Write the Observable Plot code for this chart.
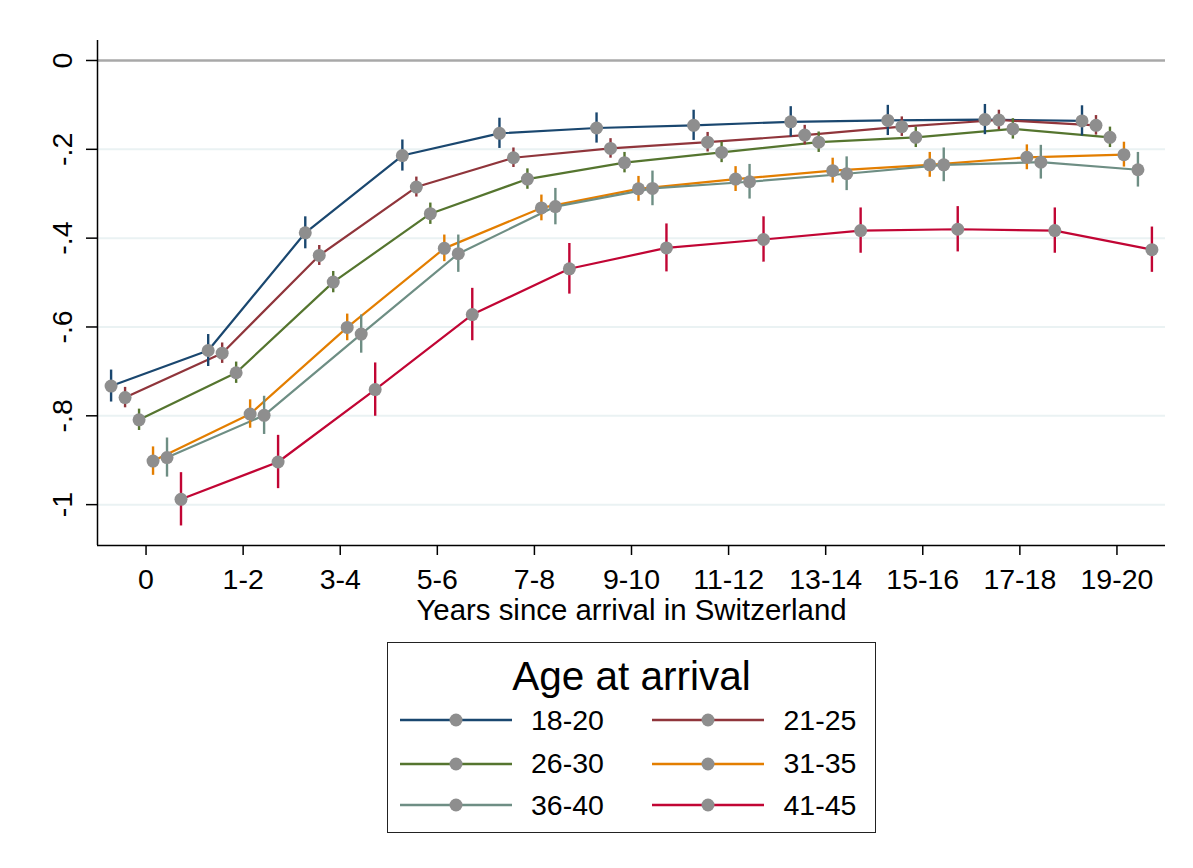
<!DOCTYPE html>
<html>
<head>
<meta charset="utf-8">
<script src="https://cdn.jsdelivr.net/npm/d3@7"></script>
<script src="https://cdn.jsdelivr.net/npm/@observablehq/plot@0.6"></script>
<style>
  html, body { margin: 0; padding: 0; background: #fff; }
  body { width: 1193px; height: 868px; position: relative; font-family: "Liberation Sans", Arial, sans-serif; }
  #chart { position: absolute; left: 0; top: 0; }
  #legend { position: absolute; left: 387px; top: 642px; width: 489px; height: 191px; box-sizing: border-box; border: 1.6px solid #222; background: #fff; }
  #legend .title { position: absolute; left: 0; right: 0; top: 11px; text-align: center; font-size: 40.5px; line-height: 1.117; color: #000; }
  .item { position: absolute; height: 30px; display: flex; align-items: center; }
  .item span { font-size: 28.5px; color: #000; margin-left: 19.5px; }
</style>
</head>
<body>
<div id="chart"></div>
<div id="legend"><div class="title">Age at arrival</div></div>
<script>
// ---- data ----
const categories = ["0", "1-2", "3-4", "5-6", "7-8", "9-10", "11-12", "13-14", "15-16", "17-18", "19-20"];
const groups = ["18-20", "21-25", "26-30", "31-35", "36-40", "41-45"];
const colors = ["#1a476f", "#90353b", "#55752f", "#e37e00", "#6e8e84", "#c10534"];
const offsets = [-0.36, -0.216, -0.072, 0.072, 0.216, 0.36];

const est_18_20 = [-0.733, -0.653, -0.388, -0.214, -0.164, -0.152, -0.146, -0.138, -0.135, -0.133, -0.136];
const ci_18_20  = [0.036, 0.036, 0.036, 0.035, 0.034, 0.034, 0.034, 0.034, 0.034, 0.034, 0.034];
const est_21_25 = [-0.759, -0.659, -0.439, -0.285, -0.219, -0.198, -0.184, -0.168, -0.149, -0.134, -0.146];
const ci_21_25  = [0.023, 0.023, 0.0225, 0.0225, 0.022, 0.022, 0.022, 0.022, 0.022, 0.022, 0.022];
const est_26_30 = [-0.809, -0.703, -0.499, -0.345, -0.267, -0.230, -0.207, -0.184, -0.173, -0.154, -0.173];
const ci_26_30  = [0.024, 0.024, 0.024, 0.024, 0.023, 0.023, 0.023, 0.023, 0.023, 0.023, 0.023];
const est_31_35 = [-0.902, -0.796, -0.601, -0.423, -0.332, -0.289, -0.267, -0.248, -0.235, -0.218, -0.212];
const ci_31_35  = [0.032, 0.032, 0.030, 0.030, 0.029, 0.028, 0.028, 0.028, 0.028, 0.028, 0.028];
const est_36_40 = [-0.894, -0.799, -0.616, -0.435, -0.329, -0.288, -0.273, -0.255, -0.235, -0.229, -0.246];
const ci_36_40  = [0.044, 0.043, 0.043, 0.042, 0.041, 0.039, 0.039, 0.038, 0.038, 0.038, 0.039];
const est_41_45 = [-0.988, -0.904, -0.741, -0.572, -0.469, -0.422, -0.403, -0.383, -0.380, -0.383, -0.426];
const ci_41_45  = [0.060, 0.060, 0.060, 0.059, 0.057, 0.054, 0.051, 0.051, 0.051, 0.051, 0.051];

const yTicks = [0, -0.2, -0.4, -0.6, -0.8, -1];
const yTickLabels = ["0", "-.2", "-.4", "-.6", "-.8", "-1"];
const xTitle = "Years since arrival in Switzerland";

// ---- build table ----
const estimates = [est_18_20, est_21_25, est_26_30, est_31_35, est_36_40, est_41_45];
const cis = [ci_18_20, ci_21_25, ci_26_30, ci_31_35, ci_36_40, ci_41_45];
const rows = [];
groups.forEach((g, gi) => {
  categories.forEach((c, ci) => {
    const y = estimates[gi][ci], h = cis[gi][ci];
    rows.push({group: g, x: ci + offsets[gi], y, lo: y - h, hi: y + h});
  });
});

const xDomain = [-0.5, 10.5];
const yDomain = [-1.092, 0.045];

const chart = Plot.plot({
  width: 1193,
  height: 630,
  marginLeft: 97,
  marginRight: 28,
  marginTop: 40,
  marginBottom: 85,
  style: {fontFamily: "'Liberation Sans', Arial, sans-serif", background: "#fff", overflow: "visible"},
  x: {domain: xDomain, axis: null},
  y: {domain: yDomain, axis: null},
  color: {domain: groups, range: colors},
  marks: [
    Plot.ruleY(yTicks.slice(1), {stroke: "#eaf2f3", strokeWidth: 2}),
    Plot.ruleY([0], {stroke: "#a8a8a8", strokeWidth: 2.5}),
    Plot.ruleX([xDomain[0]], {stroke: "#000", strokeWidth: 1.5}),
    Plot.ruleY([yDomain[0]], {stroke: "#000", strokeWidth: 1.5}),
    Plot.axisX(d3.range(categories.length), {anchor: "bottom", tickSize: 10, tickPadding: 13, fontSize: 28.5, tickFormat: i => categories[i], label: null, strokeWidth: 1.5, color: "#000"}),
    Plot.axisY(yTicks, {anchor: "left", tickSize: 11, tickFormat: () => "", label: null, strokeWidth: 1.5}),
    Plot.text(yTicks, {x: xDomain[0], y: d => d, text: (d, i) => yTickLabels[i], rotate: -90, dx: -34.5, fontSize: 28.5, fill: "#000"}),
    Plot.text([xTitle], {frameAnchor: "bottom", dy: 65, lineAnchor: "middle", text: d => d, fontSize: 29.4, fill: "#000"}),
    Plot.line(rows, {x: "x", y: "y", z: "group", stroke: "group", strokeWidth: 2.2}),
    Plot.ruleX(rows, {x: "x", y1: "lo", y2: "hi", stroke: "group", strokeWidth: 2.4}),
    Plot.dot(rows, {x: "x", y: "y", r: 6.5, fill: "#8e8e8e", stroke: "none"})
  ]
});
document.getElementById("chart").appendChild(chart);

// ---- legend ----
const legend = document.getElementById("legend");
const rowTops = [62, 105.5, 147];
groups.forEach((g, i) => {
  const col = i % 2, row = Math.floor(i / 2);
  const item = document.createElement("div");
  item.className = "item";
  item.style.left = (col === 0 ? 11.5 : 264) + "px";
  item.style.top = rowTops[row] + "px";
  const sw = d3.create("svg").attr("width", 112).attr("height", 30);
  sw.append("line").attr("x1", 0).attr("x2", 112).attr("y1", 15).attr("y2", 15).attr("stroke", colors[i]).attr("stroke-width", 2.4);
  sw.append("circle").attr("cx", 56).attr("cy", 15).attr("r", 6.5).attr("fill", "#8e8e8e");
  item.appendChild(sw.node());
  const s = document.createElement("span");
  s.textContent = g;
  item.appendChild(s);
  legend.appendChild(item);
});
</script>
</body>
</html>
